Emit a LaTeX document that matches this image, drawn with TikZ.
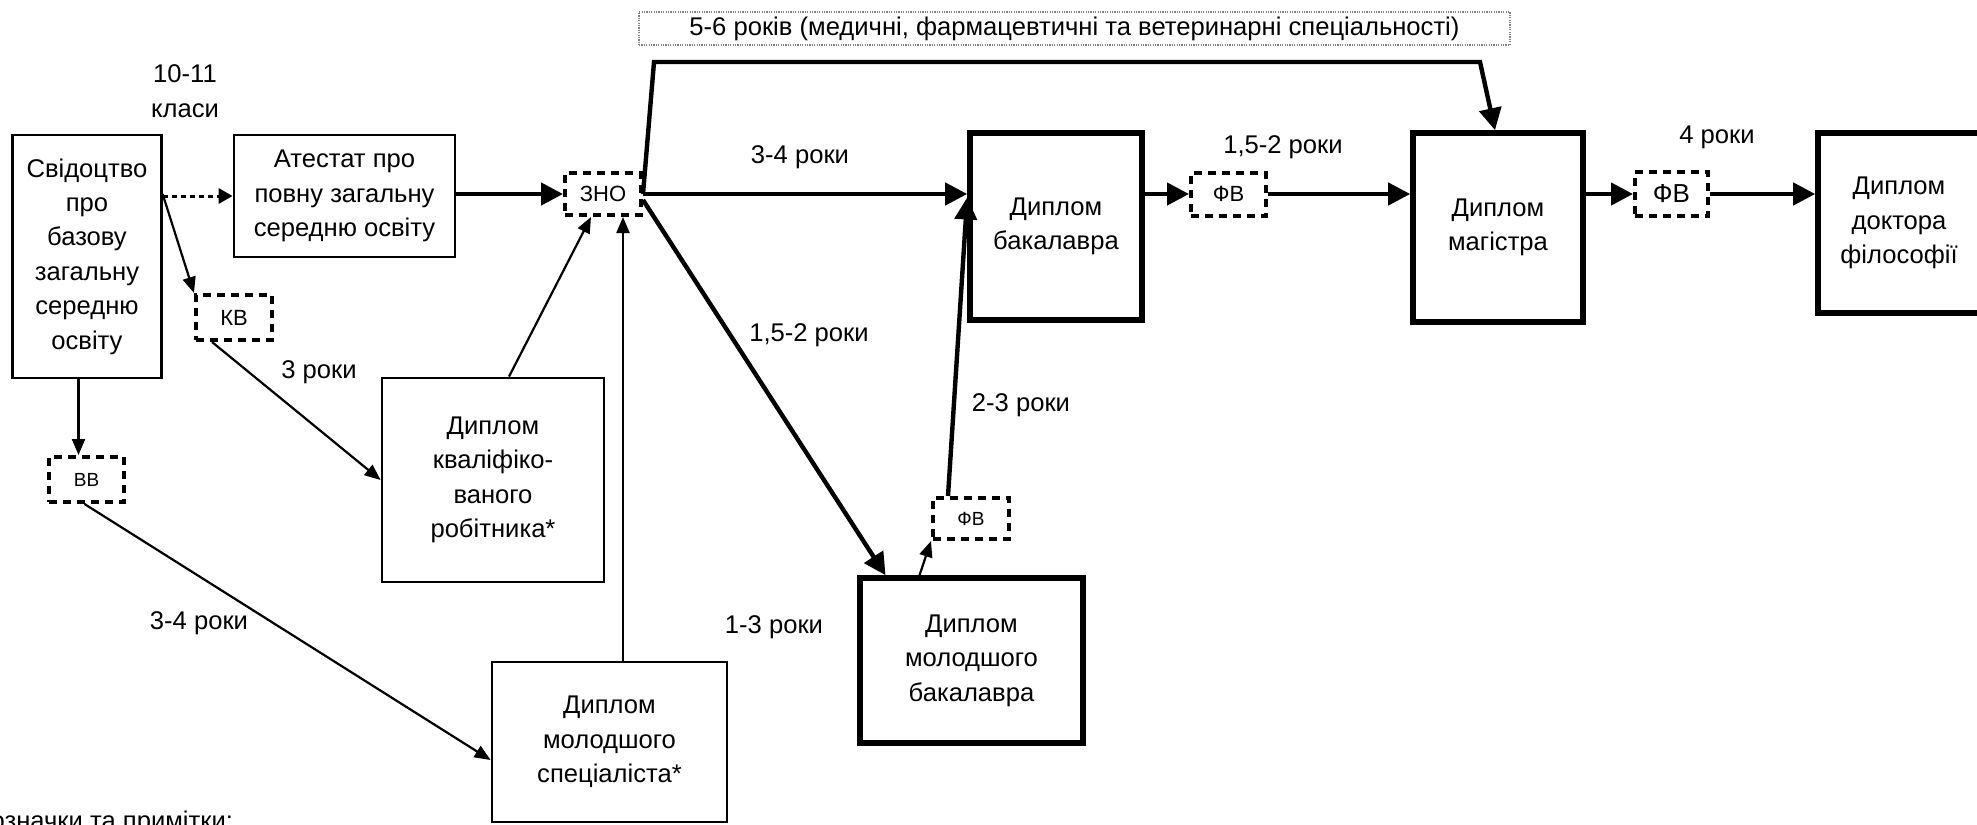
\documentclass[tikz,border=0pt]{standalone}
\usepackage{fontspec}
\setmainfont{Liberation Sans}
\usetikzlibrary{arrows.meta,calc}
\begin{document}
\begin{tikzpicture}[x=0.5pt,y=-0.5pt,
  sz/.style 2 args={minimum width=#1*0.5pt,minimum height=#2*0.5pt},
  txt/.style={font=\fontsize{12.8}{17.2}\selectfont, align=center},
  thinbox/.style={draw, line width=1.4pt, txt, inner sep=0pt},
  thickbox/.style={draw, line width=2.8pt, txt, inner sep=0pt},
  dbox/.style={draw, line width=2pt, dash pattern=on 4pt off 3pt, inner sep=0pt},
  fbig/.style={font=\fontsize{13}{15}\selectfont},
  fmid/.style={font=\fontsize{11}{13}\selectfont},
  fsmall/.style={font=\fontsize{9.5}{11}\selectfont},
  thinarrow/.style={line width=1.1pt, -{Triangle[length=8pt,width=6.5pt]}},
  thickarrow/.style={line width=2.2pt, line join=miter, -{Triangle[length=11pt,width=11pt]}},
  dotarrow/.style={line width=1.5pt, dash pattern=on 2.5pt off 2pt, -{Triangle[length=7pt,width=7.5pt]}},
  lbl/.style={txt}
]
\useasboundingbox (0,0) rectangle (1977,825);
\clip (0,0) rectangle (1977,825);

% boxes
\node[thinbox, sz={148.5}{243}] (svid) at (87,256.5) {Свідоцтво\\про\\базову\\загальну\\середню\\освіту};
\node[thinbox, sz={221}{122}] (atest) at (344.5,196) {Атестат про\\повну загальну\\середню освіту};
\node[dbox, fmid, sz={76}{42}] (zno) at (603,194) {ЗНО};
\node[dbox, fmid, sz={76}{45}] (kv) at (234,317.5) {КВ};
\node[dbox, fsmall, sz={75}{45}] (vv) at (86.5,479.5) {ВВ};
\node[thinbox, sz={222}{204}] (kvrob) at (493,480) {Диплом\\кваліфіко-\\ваного\\робітника*};
\node[thinbox, sz={235}{160}] (molspec) at (609.5,742) {Диплом\\молодшого\\спеціаліста*};
\node[thickbox, sz={172}{187}] (bak) at (1056,226.5) {Диплом\\бакалавра};
\node[dbox, fmid, sz={75}{43}] (fv1) at (1228.5,194) {ФВ};
\node[thickbox, sz={170}{189}] (mag) at (1498,227.5) {Диплом\\магістра};
\node[dbox, fbig, sz={73}{44}] (fv2) at (1671.5,194) {ФВ};
\node[thickbox, sz={162}{180}] (dok) at (1899,223) {Диплом\\доктора\\філософії};
\node[thickbox, sz={223}{165}] (molbak) at (971.5,660.5) {Диплом\\молодшого\\бакалавра};
\node[dbox, fsmall, sz={76}{41}] (fv3) at (971,518.5) {ФВ};
\node[draw=gray, line width=0.6pt, dash pattern=on 0.6pt off 0.6pt, txt, inner sep=0pt, sz={871}{33}] (top) at (1074.5,28.5) {5-6 років (медичні, фармацевтичні та ветеринарні спеціальності)};

% labels
\node[lbl] (l1011) at (185,91) {10-11\\класи};
\node[lbl] (l3a) at (319,372) {3 роки};
\node[lbl] (l34a) at (199,623) {3-4 роки};
\node[lbl] (l34b) at (800,157) {3-4 роки};
\node[lbl] (l152a) at (809,335) {1,5-2 роки};
\node[lbl] (l13) at (774,627) {1-3 роки};
\node[lbl] (l23) at (1021,405) {2-3 роки};
\node[lbl] (l152b) at (1283,147) {1,5-2 роки};
\node[lbl] (l4) at (1717,137) {4 роки};
\node[lbl, anchor=base east] (note) at (240,829) {Позначки та примітки:};

% connectors
\coordinate (p1) at (654,62);
\coordinate (p2) at (1480,62);
\draw[dotarrow] (svid.east |- atest.west) -- (atest.west);
\draw[thickarrow] (atest.east |- zno.west) -- (zno.west);
\draw[thinarrow] (svid.east |- zno.west) -- (kv.north west);
\draw[thinarrow] ([xshift=9pt]kv.south west) -- (kvrob.west);
\draw[thinarrow] ([xshift=8pt]kvrob.north) -- ([xshift=-6pt]zno.south);
\draw[thinarrow] ([xshift=10pt]zno.south |- molspec.north) -- ([xshift=10pt]zno.south);
\draw[thinarrow] ([xshift=-4pt]vv.north |- svid.south) -- ([xshift=-4pt]vv.north);
\draw[thinarrow] ([xshift=-1pt]vv.south) -- ([yshift=-9pt]molspec.west);
\draw[thickarrow] (zno.east) -- (zno.east -| bak.west);
\draw[thickarrow] ([yshift=-3pt]zno.east) -- ([xshift=-43pt]molbak.north);
\draw[thinarrow] ([xshift=-26pt]molbak.north) -- (fv3.south west);
\draw[thickarrow] ([xshift=-11.5pt]fv3.north) -- ([yshift=14.5pt]bak.west);
\draw[thickarrow] (bak.east |- fv1.west) -- (fv1.west);
\draw[thickarrow] (fv1.east) -- (fv1.east -| mag.west);
\draw[thickarrow] (mag.east |- fv2.west) -- (fv2.west);
\draw[thickarrow] (fv2.east) -- (fv2.east -| dok.west);
\draw[thickarrow] (zno.east) -- (p1) -- (p2) -- ([xshift=-1.5pt]mag.north);
\end{tikzpicture}
\end{document}
